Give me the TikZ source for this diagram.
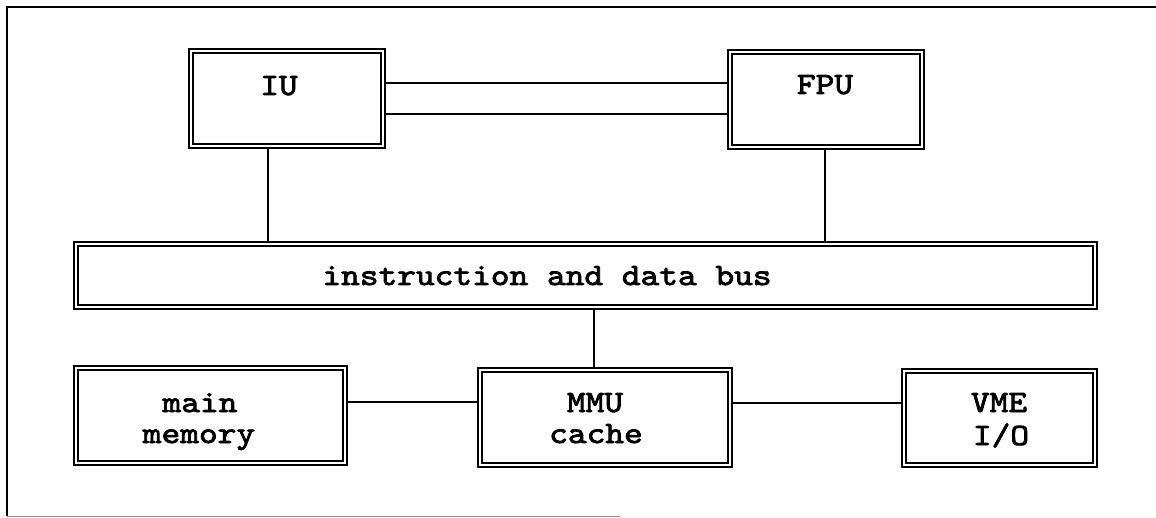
\documentclass[tikz,border=0pt]{standalone}
\usepackage{fontspec}
\newfontfamily\courfont[Extension=.otf, FakeStretch=1.15, FakeBold=2.5]{lmmono10-regular}
\begin{document}
\begin{tikzpicture}[x=1pt,y=-1pt,
  dbox/.style={draw=black, line width=1.5pt, double=white, double distance=2.8pt,
    rectangle, inner sep=0pt, fill=white},
  conn/.style={line width=1.3pt, shorten <=2.6pt, shorten >=2.6pt},
  lbl/.style={font=\courfont\fontsize{31}{33}\selectfont, inner sep=0pt, anchor=base},
  frame/.style={line width=1.8pt}]
\useasboundingbox (0,0) rectangle (1156,518);
% outer frame
\coordinate (ftl) at (7,7);
\coordinate (ftr) at (1156,7);
\coordinate (fbl) at (7,516);
\coordinate (fbr) at (620,516);
\draw[frame] (ftr) -- (ftl) -- (fbl);
\draw[line width=1pt, black!45] (fbl) -- (fbr);
% boxes
\node[dbox, minimum width=192pt, minimum height=95pt] (IU) at (287,98.5) {};
\node[dbox, minimum width=192pt, minimum height=95pt] (FPU) at (826,99.5) {};
\node[dbox, minimum width=1019pt, minimum height=63pt] (BUS) at (585.5,275.5) {};
\node[dbox, minimum width=269pt, minimum height=95pt] (MEM) at (210.5,415.5) {};
\node[dbox, minimum width=250pt, minimum height=95pt] (MMU) at (605,417.5) {};
\node[dbox, minimum width=191pt, minimum height=94pt] (VME) at (999.5,418) {};
% labels
\node[lbl] (tIU) at (279,95) {IU};
\node[lbl] (tFPU) at (825,94) {FPU};
\node[lbl] (tBUS) at (547,285) {instruction and data bus};
\node[lbl] (tMEMa) at (200,412) {main};
\node[lbl] (tMEMb) at (199,443) {memory};
\node[lbl] (tMMUa) at (595,412) {MMU};
\node[lbl] (tMMUb) at (596,443) {cache};
\node[lbl] (tVMEa) at (999,412) {VME};
\node[lbl] (tVMEb) at (1001,445) {I/O};
% connectors
\draw[conn] ([yshift=15.5pt]IU.east) -- ([yshift=16.5pt]FPU.east -| FPU.west);
\draw[conn] ([yshift=-15.5pt]IU.east) -- ([yshift=-15.5pt]IU.east -| FPU.west);
\draw[conn] (IU.south -| 268,0) -- (BUS.north -| 268,0);
\draw[conn] (FPU.south -| 825,0) -- (BUS.north -| 825,0);
\draw[conn] (BUS.south -| 594,0) -- (MMU.north -| 594,0);
\draw[conn] (MEM.east |- 0,402) -- (MMU.west |- 0,402);
\draw[conn] (MMU.east |- 0,403) -- (VME.west |- 0,403);
\end{tikzpicture}
\end{document}
